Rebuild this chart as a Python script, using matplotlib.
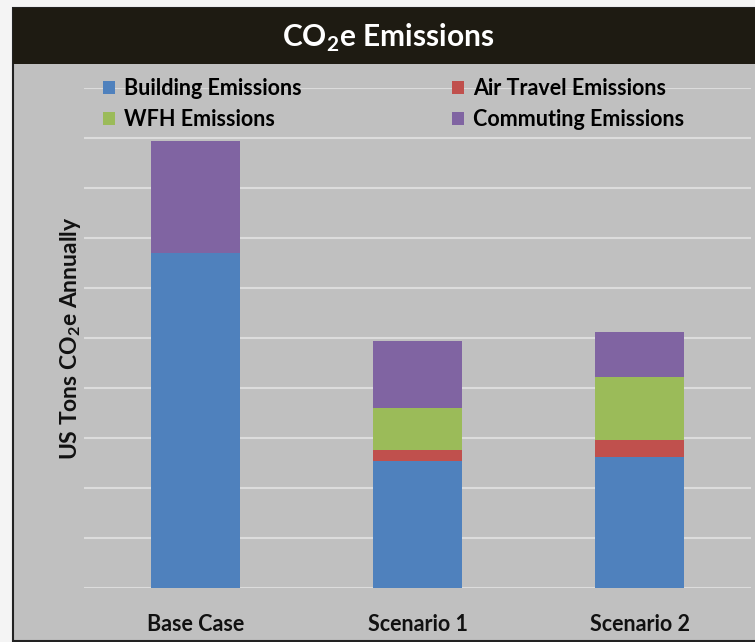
import numpy as np
import matplotlib
matplotlib.use("Agg")
import matplotlib.pyplot as plt
from matplotlib.patches import Rectangle, Patch

# ------------------------------------------------------------------
# data (units = one gridline step)
# ------------------------------------------------------------------
categories = ["Base Case", "Scenario 1", "Scenario 2"]
building = [6.70, 2.54, 2.62]
air_travel = [0.00, 0.22, 0.34]
wfh = [0.00, 0.84, 1.26]
commuting = [2.24, 1.34, 0.90]

series = [
    ("Building Emissions", building, "#4f81bd"),
    ("Air Travel Emissions", air_travel, "#c0504d"),
    ("WFH Emissions", wfh, "#9bbb59"),
    ("Commuting Emissions", commuting, "#8064a2"),
]

plt.rcParams["font.family"] = ["Lato", "DejaVu Sans"]
plt.rcParams["font.weight"] = "bold"

W, H = 755, 642
FS = 15.5
fig = plt.figure(figsize=(W / 100, H / 100), dpi=100, facecolor="#f4f4f4")

# outer panel + dark header band (behind the axes)
fig.patches.append(Rectangle((13 / W, 1 / H), 1.0, (641 - 8) / H, transform=fig.transFigure,
                             facecolor="#c0c0c0", edgecolor="#222222", lw=1.5, zorder=-2))
fig.patches.append(Rectangle((13 / W, (H - 64) / H), 1.0, 56 / H, transform=fig.transFigure,
                             facecolor="#1e1b12", edgecolor="#1e1b12", lw=0, zorder=-1))
fig.text(388 / W, (H - 38) / H, "CO$_\\mathregular{2}$e Emissions", color="white",
         fontsize=21.5, fontweight="bold", ha="center", va="center")

ax = fig.add_axes([84 / W, (H - 588) / H, 667 / W, 500 / H])
ax.set_facecolor("#c0c0c0")
x = np.arange(len(categories))
bottom = np.zeros(len(categories))
handles = {}
for name, vals, col in series:
    vals = np.asarray(vals)
    ax.bar(x, vals, width=0.4, bottom=bottom, color=col, zorder=3)
    bottom += vals
    handles[name] = Patch(facecolor=col, edgecolor="none")

ax.set_xlim(-0.5, 2.5)
ax.set_ylim(0, 10)
ax.set_yticks(np.arange(0, 11, 1))
ax.yaxis.grid(True, color="#dcdcdc", lw=1.5, zorder=0)
ax.set_yticklabels([])
ax.tick_params(axis="y", length=0)
ax.tick_params(axis="x", length=0, pad=19, labelsize=FS)
ax.set_xticks(x)
ax.set_xticklabels(categories, fontweight="bold", color="#111111")
for s in ax.spines.values():
    s.set_visible(False)

ax.set_ylabel("US Tons CO$_\\mathregular{2}$e Annually", fontsize=16.5, fontweight="bold",
              color="#111111")
ax.yaxis.set_label_coords(-0.002, 0.5)

order = ["Building Emissions", "WFH Emissions", "Air Travel Emissions", "Commuting Emissions"]
fig.legend([handles[n] for n in order], order, ncol=2, frameon=False,
           loc="center left", bbox_to_anchor=(92 / W, (H - 104) / H), borderpad=0,
           handlelength=0.56, handleheight=0.56, handletextpad=0.42,
           columnspacing=7.0, labelspacing=0.45, prop={"weight": "bold", "size": FS})

fig.savefig("out.png", dpi=100, facecolor=fig.get_facecolor())
